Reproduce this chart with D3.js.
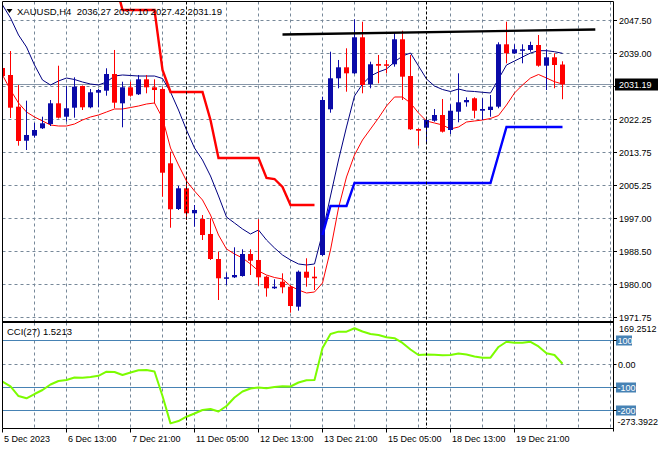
<!DOCTYPE html>
<html><head><meta charset="utf-8">
<script src="https://cdn.jsdelivr.net/npm/d3@7"></script>
<style>
body{margin:0;background:#fff}
svg{display:block}
text{font-family:"Liberation Sans",Arial,sans-serif;fill:#000}
</style>
</head><body><div id="chart"></div>
<script>
// ---------------- DATA ----------------
const symbol = "XAUUSD,H4";
const opens = [2035.39,2033.60,2025.52,2016.84,2018.12,2020.01,2021.10,2026.38,2022.96,2025.26,2030.79,2025.36,2029.09,2029.60,2033.85,2026.38,2030.46,2028.68,2032.50,2030.46,2030.03,2011.08,1999.42,2004.70,1998.33,1996.87,1993.05,1986.67,1981.75,1982.00,1982.33,1987.95,1986.42,1982.16,1979.20,1980.88,1979.61,1974.51,1983.43,1982.16,1987.69,2024.85,2032.76,2035.56,2034.03,2043.22,2031.23,2036.41,2036.33,2036.33,2042.71,2033.34,2019.83,2020.16,2021.94,2023.40,2019.57,2024.24,2026.64,2027.66,2024.49,2024.67,2025.52,2041.43,2039.13,2039.80,2039.98,2041.25,2035.97,2038.11,2036.27];
const highs = [2038.19,2039.72,2031.05,2027.05,2021.36,2022.96,2027.22,2035.97,2030.79,2033.01,2030.92,2030.03,2030.03,2035.31,2039.98,2031.89,2031.89,2033.60,2033.60,2032.50,2030.46,2014.04,2005.29,2007.66,2000.44,1997.89,1997.05,1988.53,1983.18,1989.65,1989.15,1989.15,1996.80,1982.41,1981.49,1983.02,1980.04,1983.74,1986.85,1984.71,2028.07,2039.54,2037.43,2040.41,2047.81,2047.19,2036.99,2038.70,2037.43,2044.39,2044.90,2038.70,2019.95,2022.56,2024.93,2027.48,2026.13,2034.03,2027.91,2027.91,2027.66,2028.50,2041.94,2047.19,2041.43,2041.43,2042.09,2043.80,2040.15,2039.13,2037.10];
const lows = [2032.60,2022.63,2015.57,2014.47,2017.61,2019.83,2020.59,2022.51,2021.69,2022.71,2024.67,2025.11,2025.36,2028.32,2025.11,2020.26,2028.07,2028.50,2028.93,2026.38,2002.56,1994.65,1999.17,1996.62,1994.91,1991.52,1986.42,1976.21,1980.04,1981.82,1982.16,1982.59,1979.86,1977.06,1979.02,1977.92,1972.97,1973.49,1979.61,1978.76,1987.44,2023.98,2030.21,2029.34,2033.85,2028.93,2030.21,2031.48,2034.03,2035.72,2027.22,2019.57,2015.57,2016.18,2021.69,2018.93,2018.55,2021.54,2025.52,2022.56,2022.12,2022.96,2025.11,2036.58,2038.96,2036.58,2039.54,2035.72,2029.77,2030.21,2027.42];
const closes = [2033.34,2025.26,2016.77,2018.30,2019.57,2021.28,2026.38,2022.71,2025.11,2030.62,2025.36,2029.19,2029.77,2033.85,2026.54,2030.46,2028.32,2032.50,2030.46,2029.77,2008.68,1999.35,2004.70,1998.33,1999.17,1992.79,1986.67,1981.75,1982.00,1982.59,1987.95,1986.24,1982.00,1979.20,1979.61,1979.45,1974.68,1983.43,1981.90,1981.75,2027.22,2032.76,2035.56,2034.03,2043.22,2031.05,2036.33,2035.97,2035.97,2042.71,2033.17,2019.75,2019.39,2022.12,2023.40,2019.14,2024.49,2026.64,2027.22,2024.49,2024.93,2025.52,2041.43,2039.13,2040.15,2040.15,2041.25,2035.97,2038.11,2036.15,2031.19];
// upper envelope (navy thin line) and lower envelope (red thin line)
const upperLine = [2051.45,2048.14,2043.80,2040.74,2036.15,2032.32,2031.05,2032.07,2032.83,2032.45,2031.81,2031.30,2031.05,2031.81,2033.34,2033.60,2033.47,2033.34,2033.34,2033.34,2032.71,2029.26,2024.67,2019.57,2014.98,2011.92,2007.84,2002.74,1997.38,1995.85,1994.32,1993.05,1994.07,1991.52,1989.48,1987.69,1986.42,1985.40,1985.14,1985.40,1993.30,2002.74,2011.92,2020.34,2028.24,2031.30,2033.34,2034.37,2035.13,2036.92,2038.45,2039.21,2035.90,2032.58,2030.79,2029.90,2029.39,2030.03,2029.52,2029.39,2029.19,2029.01,2032.58,2036.15,2037.17,2038.19,2039.21,2039.80,2039.80,2039.54,2039.13];
const lowerLine = [2033.60,2029.77,2026.46,2024.16,2022.89,2021.87,2020.85,2020.59,2020.59,2021.10,2022.12,2022.89,2023.40,2024.16,2024.93,2024.93,2025.31,2025.69,2026.20,2026.46,2022.63,2014.98,2010.65,2006.56,2004.01,2001.72,1997.89,1992.79,1989.22,1987.95,1986.93,1985.40,1983.61,1982.59,1981.95,1981.57,1979.78,1978.76,1978.00,1978.25,1980.55,1988.97,1999.68,2007.59,2013.20,2017.02,2019.83,2022.63,2025.69,2027.99,2027.99,2026.46,2023.91,2021.87,2021.36,2020.85,2019.83,2020.34,2021.61,2021.87,2022.12,2022.51,2023.27,2025.95,2029.01,2031.05,2032.83,2033.73,2032.83,2031.89,2031.30];
// trailing stops (thick red above price, thick blue below price)
const stopRed = [null,null,null,null,null,null,null,null,null,null,null,null,null,null,2058.00,2050.18,2050.18,2050.18,2050.18,2050.18,2034.88,2029.26,2029.26,2029.26,2029.26,2029.26,2022.12,2012.43,2012.43,2012.43,2012.43,2012.43,2012.43,2007.33,2007.07,2005.03,2000.44,2000.44,2000.44,2000.44,null,null,null,null,null,null,null,null,null,null,null,null,null,null,null,null,null,null,null,null,null,null,null,null,null,null,null,null,null,null,null];
const stopBlue = [null,null,null,null,null,null,null,null,null,null,null,null,null,null,null,null,null,null,null,null,null,null,null,null,null,null,null,null,null,null,null,null,null,null,null,null,null,null,null,null,1992.79,2000.19,2000.19,2000.19,2006.06,2006.06,2006.06,2006.06,2006.06,2006.06,2006.06,2006.06,2006.06,2006.06,2006.06,2006.06,2006.06,2006.06,2006.06,2006.06,2006.06,2006.06,2013.20,2020.34,2020.34,2020.34,2020.34,2020.34,2020.34,2020.34,2020.34];
// resistance trend line (bar index, price)
const trendBars = [35, 74.1];
const trendPrices = [2043.93, 2045.20];
// CCI(27)
const cciName = "CCI(27)";
const cci = [-75.1,-94.8,-136.2,-146.0,-127.6,-110.5,-87.1,-72.1,-67.9,-57.2,-58.0,-55.1,-49.9,-32.4,-33.7,-46.5,-35.9,-26.5,-25.2,-31.6,-136.2,-252.7,-242.8,-224.5,-210.8,-195.9,-191.6,-202.3,-178.8,-142.6,-116.9,-104.1,-99.9,-103.3,-97.7,-94.3,-95.6,-78.5,-69.1,-67.9,68.7,128.5,138.3,138.3,152.8,139.1,128.5,124.2,114.4,110.5,90.1,62.3,38.8,41.0,40.1,37.6,38.8,45.2,41.0,32.4,27.3,27.3,73.0,95.2,91.3,91.3,95.2,75.1,46.1,38.8,1.5213];
const cciLevels = [100, -100, -200];
const cciLevelLabels = ["100", "-100", "-200"];
const cciRange = [-273.3922, 169.2512];
// axes
const priceTicks = [2047.50, 2039.0833, 2030.6667, 2022.25, 2013.8333, 2005.4167, 1997.00, 1988.5833, 1980.1667, 1971.75];
const priceTickLabels = ["2047.50","2039.00","2030.50","2022.25","2013.75","2005.25","1997.00","1988.50","1980.00","1971.75"];
const timeLabelBars = [0, 8, 16, 24, 32, 40, 48, 56, 64];
const timeLabels = ["5 Dec 2023","6 Dec 13:00","7 Dec 21:00","11 Dec 05:00","12 Dec 13:00","13 Dec 21:00","15 Dec 05:00","18 Dec 13:00","19 Dec 21:00"];
const gridBars = [0,4,8,12,16,20,24,28,32,36,40,44,48,52,56,60,64,68,72,76];
const weekSeparatorBars = [23, 53];

// ---------------- LAYOUT ----------------
const W = 660, H = 450;
const L = 2.5, R = 613.5;
const mainT = 1.5, mainB = 321.5, subT = 322.5, subB = 428.5;
const C_BULL = "#0a0aa8", C_BEAR = "#ff0000", C_GRID = "#778899", C_LEVEL = "#4682b4";

const x = d3.scaleLinear().domain([0, 70]).range([2.5, 562.5]);
const y = d3.scaleLinear().domain([1971.75, 2047.5]).range([317.5, 20.5]);
const yc = d3.scaleLinear().domain(cciRange).range([428.2, 324.4]);
const crisp = v => Math.round(v - 0.5) + 0.5;

const svg = d3.select("#chart").append("svg").attr("width", W).attr("height", H);
svg.append("rect").attr("width", W).attr("height", H).attr("fill", "#fff");

const defs = svg.append("defs");
defs.append("clipPath").attr("id", "clipMain").append("rect")
  .attr("x", L).attr("y", mainT + 0.5).attr("width", R - L).attr("height", mainB - mainT - 0.5);
defs.append("clipPath").attr("id", "clipSub").append("rect")
  .attr("x", L).attr("y", subT + 0.5).attr("width", R - L).attr("height", subB - subT - 0.5);

const main = svg.append("g").attr("clip-path", "url(#clipMain)");
const sub = svg.append("g").attr("clip-path", "url(#clipSub)");

// grids - main
main.selectAll(".hg").data(priceTicks).join("line")
  .attr("x1", L).attr("x2", R).attr("y1", d => crisp(y(d))).attr("y2", d => crisp(y(d)))
  .attr("stroke", C_GRID).attr("stroke-dasharray", "3,3");
main.selectAll(".vg").data(gridBars).join("line")
  .attr("x1", d => x(d)).attr("x2", d => x(d)).attr("y1", mainT).attr("y2", mainB)
  .attr("stroke", C_GRID).attr("stroke-dasharray", "3,3");
// grids - sub
sub.selectAll(".vg").data(gridBars).join("line")
  .attr("x1", d => x(d)).attr("x2", d => x(d)).attr("y1", subT).attr("y2", subB)
  .attr("stroke", C_GRID).attr("stroke-dasharray", "3,3");
sub.append("line").attr("x1", L).attr("x2", R).attr("y1", crisp(yc(0))).attr("y2", crisp(yc(0)))
  .attr("stroke", C_GRID).attr("stroke-dasharray", "3,3");
sub.selectAll(".lv").data(cciLevels).join("line")
  .attr("x1", L).attr("x2", R).attr("y1", d => crisp(yc(d))).attr("y2", d => crisp(yc(d)))
  .attr("stroke", C_LEVEL);

// week separators
[[mainT, mainB], [subT, subB]].forEach(([t, b]) => {
  svg.selectAll(null).data(weekSeparatorBars).join("line")
    .attr("x1", d => x(d)).attr("x2", d => x(d)).attr("y1", t).attr("y2", b)
    .attr("stroke", "#000").attr("stroke-dasharray", "3,2");
});

// current price line
const last = closes.length - 1;
main.append("line").attr("x1", L).attr("x2", R)
  .attr("y1", crisp(y(closes[last]))).attr("y2", crisp(y(closes[last])))
  .attr("stroke", "#8796a8");

// envelope lines
const lineGen = (sc) => d3.line().defined(d => d != null).x((d, i) => x(i)).y(d => sc(d));
main.append("path").attr("d", lineGen(y)(upperLine)).attr("fill", "none").attr("stroke", "#000080").attr("stroke-width", 1);
main.append("path").attr("d", lineGen(y)(lowerLine)).attr("fill", "none").attr("stroke", "#ff0000").attr("stroke-width", 1);

// candles
const idx = d3.range(opens.length);
const cg = main.append("g");
cg.selectAll(".wick").data(idx).join("line")
  .attr("x1", i => x(i)).attr("x2", i => x(i))
  .attr("y1", i => y(highs[i])).attr("y2", i => y(lows[i]))
  .attr("stroke", i => closes[i] >= opens[i] ? C_BULL : C_BEAR).attr("stroke-width", 1);
cg.selectAll(".body").data(idx).join("rect")
  .attr("x", i => x(i) - 2.5).attr("width", 5)
  .attr("y", i => y(Math.max(opens[i], closes[i])))
  .attr("height", i => Math.max(1.5, Math.abs(y(opens[i]) - y(closes[i]))))
  .attr("fill", i => closes[i] >= opens[i] ? C_BULL : C_BEAR);

// stops
main.append("path").attr("d", lineGen(y)(stopRed)).attr("fill", "none").attr("stroke", "#ff0000").attr("stroke-width", 2.4);
main.append("path").attr("d", lineGen(y)(stopBlue)).attr("fill", "none").attr("stroke", "#0000ff").attr("stroke-width", 2.4);
// trend line
main.append("path").attr("d", d3.line().x(d => x(d[0])).y(d => y(d[1]))(trendBars.map((b, i) => [b, trendPrices[i]])))
  .attr("fill", "none").attr("stroke", "#000").attr("stroke-width", 2.4);

// CCI
sub.append("path").attr("d", lineGen(yc)(cci)).attr("fill", "none").attr("stroke", "#7cfc00").attr("stroke-width", 2)
  .attr("stroke-linejoin", "round");

// frames
const fr = svg.append("g").attr("stroke", "#000").attr("fill", "none");
fr.append("line").attr("x1", L).attr("x2", R).attr("y1", mainT).attr("y2", mainT);
fr.append("line").attr("x1", L).attr("x2", R).attr("y1", mainB).attr("y2", mainB);
fr.append("line").attr("x1", L).attr("x2", R).attr("y1", subT).attr("y2", subT);
fr.append("line").attr("x1", L).attr("x2", R).attr("y1", subB).attr("y2", subB);
fr.append("line").attr("x1", L).attr("x2", L).attr("y1", mainT).attr("y2", subB);
fr.append("line").attr("x1", R).attr("x2", R).attr("y1", mainT).attr("y2", subB + 3);

// price axis labels
const curY = y(closes[last]);
priceTicks.forEach((v, i) => {
  const yy = crisp(y(v));
  svg.append("line").attr("x1", R).attr("x2", R + 3.5).attr("y1", yy).attr("y2", yy).attr("stroke", "#000");
  if (Math.abs(yy - curY) > 8)
    svg.append("text").attr("x", 619).attr("y", yy + 3.3).attr("font-size", 9).text(priceTickLabels[i]);
});
svg.append("rect").attr("x", 615).attr("y", crisp(curY) - 6).attr("width", 43).attr("height", 12).attr("fill", "#000");
svg.append("text").attr("x", 619).attr("y", crisp(curY) + 3.3).attr("font-size", 9).style("fill", "#fff")
  .text(closes[last].toFixed(2));

// CCI axis labels
svg.append("text").attr("x", 619).attr("y", yc(cciRange[1]) + 8).attr("font-size", 9).text(cciRange[1].toFixed(4));
svg.append("text").attr("x", 617.5).attr("y", yc(cciRange[0]) - 3.5).attr("font-size", 9).text(cciRange[0].toFixed(4));
svg.append("text").attr("x", 618).attr("y", crisp(yc(0)) + 3.3).attr("font-size", 9).text("0.00");
cciLevels.forEach((v, i) => {
  const yy = crisp(yc(v));
  const w = cciLevelLabels[i].length > 3 ? 20 : 16;
  svg.append("rect").attr("x", 616).attr("y", yy - 5).attr("width", w).attr("height", 10).attr("fill", C_LEVEL);
  svg.append("text").attr("x", 617.5).attr("y", yy + 3.3).attr("font-size", 9).style("fill", "#fff").text(cciLevelLabels[i]);
});
[100, 0, -100, -200].forEach(v => {
  const yy = crisp(yc(v));
  svg.append("line").attr("x1", R).attr("x2", R + 3).attr("y1", yy).attr("y2", yy).attr("stroke", "#000");
});

// time axis
timeLabelBars.forEach((b, i) => {
  svg.append("line").attr("x1", x(b)).attr("x2", x(b)).attr("y1", subB).attr("y2", subB + 4).attr("stroke", "#000");
  svg.append("text").attr("x", x(b) + 1.5).attr("y", 441.5).attr("font-size", 9).text(timeLabels[i]);
});

// titles
svg.append("path").attr("d", "M6.5,9 L12.5,9 L9.5,13 Z").attr("fill", "#000");
svg.append("text").attr("x", 17).attr("y", 14.5).attr("font-size", 9.5).attr("xml:space", "preserve")
  .style("white-space", "pre")
  .text(symbol + "  " + [opens[last], highs[last], lows[last], closes[last]].map(v => v.toFixed(2)).join(" "));
svg.append("text").attr("x", 7).attr("y", 335).attr("font-size", 9.5)
  .text(cciName + " " + cci[last].toFixed(4));
</script>
</body></html>
